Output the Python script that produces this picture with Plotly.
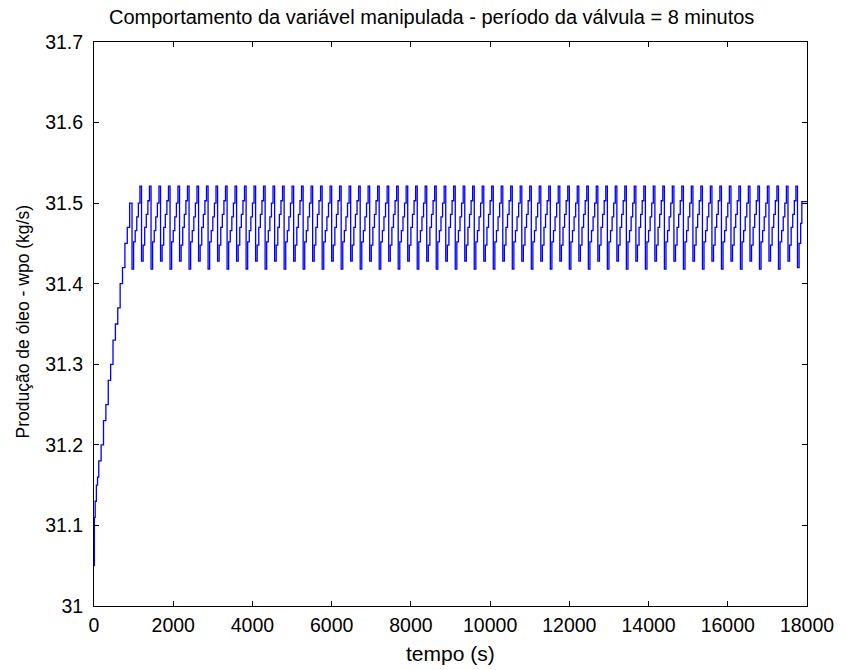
import plotly.graph_objects as go

# Start-up ramp of the oil production (time in s, value in kg/s)
ramp_times = [0, 10, 30, 60, 90, 120, 180, 240, 300, 360, 420, 480, 540, 600, 660, 720, 780, 840, 900]
ramp_vals = [31.05, 31.11, 31.13, 31.15, 31.16, 31.18, 31.20, 31.23, 31.25, 31.28, 31.30, 31.33,
             31.35, 31.37, 31.40, 31.42, 31.45, 31.47, 31.50]

# One valve cycle: staircase levels held for 40 s each, two alternating shapes
cycle_start = 960
cycle_length = 240
n_cycles = 70
step_offsets = [0, 40, 80, 120, 160, 200]
cycle_a_vals = [31.418, 31.452, 31.466, 31.483, 31.500, 31.521]
cycle_b_vals = [31.428, 31.448, 31.470, 31.486, 31.503, 31.521]

# Final stretch after the last cycle
tail_times = [17760, 17800, 17840, 17870, 18000]
tail_vals = [31.42, 31.45, 31.475, 31.502, 31.502]

x_tick_vals = [0, 2000, 4000, 6000, 8000, 10000, 12000, 14000, 16000, 18000]
x_tick_text = ["0", "2000", "4000", "6000", "8000", "10000", "12000", "14000", "16000", "18000"]
y_tick_vals = [31.0, 31.1, 31.2, 31.3, 31.4, 31.5, 31.6, 31.7]
y_tick_text = ["31", "31.1", "31.2", "31.3", "31.4", "31.5", "31.6", "31.7"]

title_text = "Comportamento da variável manipulada - período da válvula = 8 minutos"
x_title = "tempo (s)"
y_title = "Produção de óleo - wpo (kg/s)"

# Assemble the time series
t = list(ramp_times)
y = list(ramp_vals)
for k in range(n_cycles):
    base = cycle_start + k * cycle_length
    vals = cycle_a_vals if k % 2 == 0 else cycle_b_vals
    for off, v in zip(step_offsets, vals):
        t.append(base + off)
        y.append(v)
t += tail_times
y += tail_vals

font_family = "Liberation Sans, Arial, sans-serif"
black = "#000000"

fig = go.Figure()
fig.add_trace(go.Scatter(x=t, y=y, mode="lines", line=dict(color="#0000FF", width=1.3, shape="hv"),
                         showlegend=False, hoverinfo="skip"))

axis_common = dict(
    showline=True, linecolor=black, linewidth=1, mirror="ticks",
    ticks="inside", ticklen=5, tickcolor=black, tickwidth=1,
    showgrid=False, zeroline=False,
    tickfont=dict(family=font_family, size=19.5, color=black),
)

fig.update_layout(
    width=846, height=670,
    margin=dict(l=94, r=28, t=42, b=64),
    paper_bgcolor="#FFFFFF", plot_bgcolor="#FFFFFF",
    font=dict(family=font_family, size=18, color=black),
    xaxis=dict(range=[0, 18000], tickvals=x_tick_vals, ticktext=x_tick_text,
               ticklabelstandoff=2, **axis_common),
    yaxis=dict(range=[31.0, 31.7], tickvals=y_tick_vals, ticktext=y_tick_text,
               ticklabelstandoff=6, **axis_common),
    annotations=[
        dict(text=title_text, xref="paper", yref="paper", x=0.474, y=1.044,
             xanchor="center", yanchor="middle", showarrow=False,
             font=dict(family=font_family, size=20, color=black)),
        dict(text=x_title, xref="paper", yref="paper", x=0.5, y=-0.085,
             xanchor="center", yanchor="middle", showarrow=False,
             font=dict(family=font_family, size=21, color=black)),
        dict(text=y_title, xref="paper", yref="paper", x=-0.0994, y=0.503,
             xanchor="center", yanchor="middle", showarrow=False, textangle=-90,
             font=dict(family=font_family, size=17.5, color=black)),
    ],
)

fig.write_html("out.html")
